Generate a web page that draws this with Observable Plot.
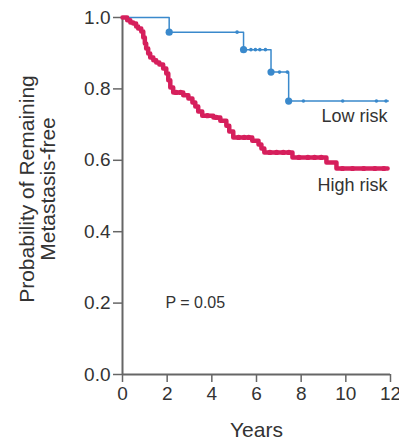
<!DOCTYPE html>
<html>
<head>
<meta charset="utf-8">
<script src="https://cdn.jsdelivr.net/npm/d3@7"></script>
<script src="https://cdn.jsdelivr.net/npm/@observablehq/plot@0.6"></script>
<style>
  html, body { margin: 0; padding: 0; background: white; }
</style>
</head>
<body>
<div id="chart"></div>
<script>
// Low risk group (Kaplan–Meier steps)
const lowTimes = [0, 2.09, 5.42, 6.65, 7.44, 11.9];
const lowSurv  = [1.0, 0.959, 0.910, 0.847, 0.766, 0.766];
const lowEventTimes = [2.09, 5.42, 6.65, 7.44];
const lowEventSurv  = [0.959, 0.910, 0.847, 0.766];
const lowCensorTimes = [5.13, 5.75, 5.95, 6.15, 6.4, 7.03, 7.38, 8.1, 9.86, 11.37, 11.8];
const lowCensorSurv  = [0.959, 0.910, 0.910, 0.910, 0.910, 0.847, 0.847, 0.766, 0.766, 0.766, 0.766];

// High risk group
const highTimes = [0, 0.21, 0.35, 0.48, 0.61, 0.70, 0.84, 0.93, 1.0, 1.06, 1.15, 1.24, 1.38, 1.51, 1.65, 1.82, 1.96, 2.05, 2.14, 2.27, 2.72, 2.95, 3.13, 3.26, 3.39, 3.57, 4.07, 4.38, 4.65, 4.78, 4.96, 5.81, 6.09, 6.22, 6.35, 7.61, 9.13, 9.58, 11.87];
const highSurv  = [1.0, 0.992, 0.986, 0.983, 0.975, 0.969, 0.961, 0.944, 0.927, 0.913, 0.899, 0.888, 0.880, 0.874, 0.868, 0.857, 0.843, 0.824, 0.804, 0.790, 0.782, 0.773, 0.762, 0.751, 0.737, 0.725, 0.720, 0.711, 0.697, 0.681, 0.664, 0.655, 0.644, 0.633, 0.622, 0.608, 0.594, 0.577, 0.577];
const highCensorTimes = [2.4, 2.6, 3.8, 4.2, 5.2, 5.45, 5.65, 6.6, 6.9, 7.2, 7.45, 7.9, 8.3, 8.6, 8.9, 9.85, 10.3, 10.8, 11.3, 11.7];
const highCensorSurv  = [0.790, 0.790, 0.725, 0.720, 0.664, 0.664, 0.664, 0.622, 0.622, 0.622, 0.622, 0.608, 0.608, 0.608, 0.608, 0.577, 0.577, 0.577, 0.577, 0.577];

const xTicks = [0, 2, 4, 6, 8, 10, 12];
const yTicks = [0, 0.2, 0.4, 0.6, 0.8, 1.0];
const groupLabels = ["Low risk", "High risk"];
const pLabel = "P = 0.05";
const xTitle = "Years";
const yTitle = "Probability of Remaining\nMetastasis-free";

const blue = "#3a89cc";
const red = "#d61f5c";

const zip = (ts, ss) => ts.map((t, i) => ({t, s: ss[i]}));
const low = zip(lowTimes, lowSurv);
const lowEv = zip(lowEventTimes, lowEventSurv);
const lowCen = zip(lowCensorTimes, lowCensorSurv);
const high = zip(highTimes, highSurv);
const highCen = zip(highCensorTimes, highCensorSurv);

const chart = Plot.plot({
  width: 399,
  height: 444,
  marginLeft: 122,
  marginRight: 9,
  marginTop: 17,
  marginBottom: 70,
  x: {domain: [0, 12]},
  y: {domain: [0, 1]},
  style: {fontFamily: "'Liberation Sans', Arial, sans-serif", color: "#333", background: "white"},
  marks: [
    Plot.axisX({ticks: xTicks, tickSize: 8, tickPadding: 4, fontSize: 19, stroke: "#666", strokeWidth: 1.5, label: null}),
    Plot.axisY({ticks: yTicks, tickFormat: d => d.toFixed(1), tickSize: 9, tickPadding: 3, fontSize: 19, stroke: "#666", strokeWidth: 1.5, label: null}),
    Plot.ruleX([0], {y1: 0, y2: 1, stroke: "#666", strokeWidth: 2}),
    Plot.ruleY([0], {x1: 0, x2: 12, stroke: "#666", strokeWidth: 2}),
    Plot.line(low, {x: "t", y: "s", curve: "step-after", stroke: blue, strokeWidth: 1.5}),
    Plot.dot(lowCen, {x: "t", y: "s", r: 1.8, fill: blue}),
    Plot.dot(lowEv, {x: "t", y: "s", r: 3.6, fill: blue}),
    Plot.line(high, {x: "t", y: "s", curve: "step-after", stroke: red, strokeWidth: 4.5, strokeLinejoin: "round", strokeLinecap: "round"}),
    Plot.dot(highCen, {x: "t", y: "s", r: 2.6, fill: red}),
    Plot.text([groupLabels[0]], {x: 11.87, y: 0.706, textAnchor: "end", lineAnchor: "bottom", fontSize: 18, fill: "#333"}),
    Plot.text([groupLabels[1]], {x: 11.87, y: 0.515, textAnchor: "end", lineAnchor: "bottom", fontSize: 18, fill: "#333"}),
    Plot.text([pLabel], {x: 1.92, y: 0.185, textAnchor: "start", lineAnchor: "bottom", fontSize: 16, fill: "#333"}),
    Plot.text([xTitle], {frameAnchor: "bottom", dy: 56, textAnchor: "middle", lineAnchor: "middle", fontSize: 21, fill: "#333"}),
    Plot.text([yTitle], {frameAnchor: "left", dx: -84.5, dy: -7, rotate: -90, textAnchor: "middle", lineAnchor: "middle", lineHeight: 1.0, fontSize: 21, fill: "#333"})
  ]
});
document.getElementById("chart").appendChild(chart);
</script>
</body>
</html>
